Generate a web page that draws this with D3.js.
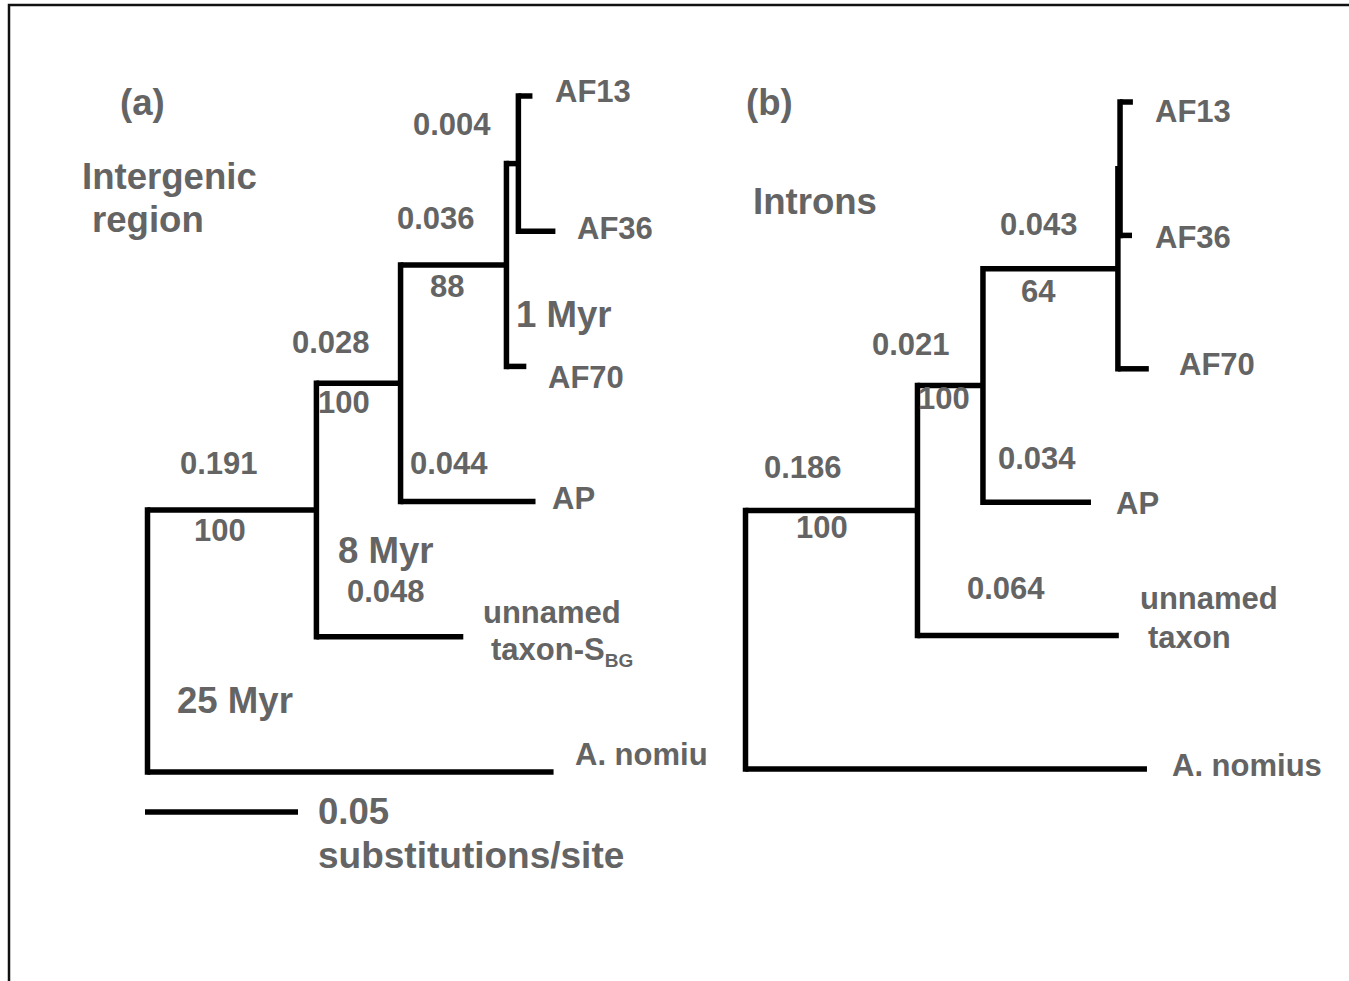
<!DOCTYPE html>
<html><head><meta charset="utf-8">
<script src="https://cdn.jsdelivr.net/npm/d3@7"></script>
<style>
body{margin:0;background:#fff;}
svg{display:block;}
text{font-family:"Liberation Sans",Arial,Helvetica,sans-serif;font-weight:bold;fill:#646464;}
</style></head><body>
<svg id="chart" width="1349" height="981"></svg>
<script>
// ================= DATA =================
// Panel (a): intergenic region tree (branch lengths in substitutions/site)
const nodeIdsA   = ["root","n1","n2","n3","n4","AF13","AF36","AF70","AP","unnamed","nomius"];
const parentIdsA = [null,"root","n1","n2","n3","n4","n4","n3","n2","n1","root"];
const branchLenA = [0,0.0552,0.0275,0.0346,0.0039,0.0046,0.0121,0.0065,0.0441,0.048,0.1327];

// Panel (b): introns tree
const nodeIdsB   = ["root","n1","n2","n3","n4","AF13","AF36","AF70","AP","unnamed","nomius"];
const parentIdsB = [null,"root","n1","n2","n3","n4","n4","n3","n2","n1","root"];
const branchLenB = [0,0.0562,0.0214,0.0441,0.0007,0.0042,0.0039,0.0101,0.0353,0.0658,0.1312];

// Leaf names (top to bottom)
const leafLabelsA = ["AF13","AF36","AF70","AP","unnamed","taxon-S","A. nomiu"];
const leafLabelsB = ["AF13","AF36","AF70","AP","unnamed","taxon","A. nomius"];
// Branch-length labels
const lenLabelsA = ["0.004","0.036","0.028","0.044","0.191","0.048"];
const lenLabelsB = ["0.043","0.021","0.034","0.186","0.064"];
// Bootstrap support
const supportA = ["88","100","100"];
const supportB = ["64","100","100"];
// Divergence times
const agesA = ["1 Myr","8 Myr","25 Myr"];
// Titles
const titlesA = ["(a)","Intergenic","region"];
const titlesB = ["(b)","Introns"];
// Scale bar
const scaleBarValue = 0.05;
const scaleBarLabels = ["0.05","substitutions/site"];

// ================= LAYOUT (positions only) =================
const PX_PER_UNIT = 3060;
const SM = 31, LG = 36.6;
const layoutA = {rootX:147.5, yTop:96, yBot:772};
const layoutB = {rootX:745.5, yTop:102, yBot:769};
const leafPosA = [[555,102],[577,239],[548,388],[552,509],[483,623],[491,660],[575,765]];
const leafPosB = [[1155,122],[1155,248],[1179,375],[1116,514],[1140,609],[1148,648],[1172,776]];
const lenPosA = [[413,135],[397,229],[292,353],[410,474],[180,474],[347,602]];
const lenPosB = [[1000,235],[872,355],[998,469],[764,478],[967,599]];
const supPosA = [[430,297],[318,413],[194,541]];
const supPosB = [[1021,302],[918,409],[796,538]];
const agePosA = [[516,327],[338,563],[177,713]];
const titlePosA = [[120,115],[82,189],[92,232]];
const titlePosB = [[746,115],[753,214]];
const LW = 5.5;

// ================= DRAW =================
const svg = d3.select("#chart");

// frame
svg.append("path").attr("d","M9,981V5H1349").attr("fill","none")
   .attr("stroke","#111").attr("stroke-width",2.5);

function drawTree(ids, parents, lens, lay){
  const table = ids.map((id,i)=>({id, parent:parents[i], len:lens[i]}));
  const root = d3.stratify().id(d=>d.id).parentId(d=>d.parent)(table);
  root.eachBefore(n=>{ n.dist = n.parent ? n.parent.dist + n.data.len : 0; });
  const x = d3.scaleLinear().domain([0,1]).range([lay.rootX, lay.rootX+PX_PER_UNIT]);
  const leaves = root.leaves();
  const y = d3.scalePoint().domain(leaves.map(d=>d.id)).range([lay.yTop, lay.yBot]);
  root.eachAfter(n=>{
    n.py = n.children ? (n.children[0].py + n.children[n.children.length-1].py)/2 : y(n.id);
    n.px = x(n.dist);
  });
  const g = svg.append("g");
  // vertical connectors at internal nodes
  g.selectAll("line.v").data(root.descendants().filter(d=>d.children)).join("line")
    .attr("class","v")
    .attr("x1",d=>d.px).attr("x2",d=>d.px)
    .attr("y1",d=>d.children[0].py).attr("y2",d=>d.children[d.children.length-1].py)
    .attr("stroke","#000").attr("stroke-width",LW).attr("stroke-linecap","square");
  // horizontal branches
  g.selectAll("line.h").data(root.descendants().slice(1)).join("line")
    .attr("class","h")
    .attr("x1",d=>d.parent.px).attr("x2",d=>d.px)
    .attr("y1",d=>d.py).attr("y2",d=>d.py)
    .attr("stroke","#000").attr("stroke-width",LW);
  return x;
}

function texts(labels, pos, size){
  svg.append("g").selectAll("text").data(labels).join("text")
    .attr("x",(d,i)=>pos[i][0]).attr("y",(d,i)=>pos[i][1])
    .attr("font-size",size).text(d=>d);
}

drawTree(nodeIdsA, parentIdsA, branchLenA, layoutA);
drawTree(nodeIdsB, parentIdsB, branchLenB, layoutB);

// leaf labels
svg.append("g").selectAll("text").data(leafLabelsA).join("text")
  .attr("x",(d,i)=>leafPosA[i][0]).attr("y",(d,i)=>leafPosA[i][1])
  .attr("font-size",SM)
  .each(function(d){
    const t = d3.select(this);
    t.text(d);
    if(d==="taxon-S"){
      t.append("tspan").attr("font-size",19).attr("dy",7).text("BG");
    }
  });
texts(leafLabelsB, leafPosB, SM);
texts(lenLabelsA, lenPosA, SM);
texts(lenLabelsB, lenPosB, SM);
texts(supportA, supPosA, SM);
texts(supportB, supPosB, SM);
texts(agesA, agePosA, LG);
texts(titlesA, titlePosA, LG);
texts(titlesB, titlePosB, LG);

// scale bar
const sbX0 = 145, sbY = 812;
const sbScale = d3.scaleLinear().domain([0,1]).range([sbX0, sbX0+PX_PER_UNIT]);
svg.append("line").attr("x1",sbScale(0)).attr("x2",sbScale(scaleBarValue))
  .attr("y1",sbY).attr("y2",sbY).attr("stroke","#000").attr("stroke-width",LW);
svg.append("g").selectAll("text").data(scaleBarLabels).join("text")
  .attr("x",318).attr("y",(d,i)=>[824,868][i])
  .attr("font-size",(d,i)=>[LG,37][i]).text(d=>d);
</script>
</body></html>
